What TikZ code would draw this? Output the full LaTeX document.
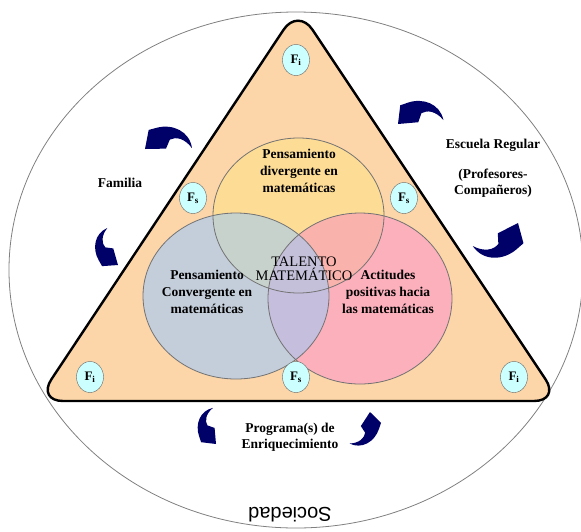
\documentclass[tikz,border=0pt]{standalone}
\usepackage{fontspec}
\setmainfont{Liberation Serif}
\newfontfamily\sansfont{Liberation Sans}
\usetikzlibrary{shapes.geometric}
\definecolor{peach}{RGB}{252,213,168}
\definecolor{yellowset}{RGB}{253,220,150}
\definecolor{blueset}{RGB}{196,206,218}
\definecolor{pinkset}{RGB}{252,176,188}
\definecolor{yb}{RGB}{199,210,205}
\definecolor{yp}{RGB}{250,178,172}
\definecolor{bp}{RGB}{197,190,221}
\definecolor{ybp}{RGB}{197,192,218}
\definecolor{factorcyan}{RGB}{204,255,255}
\definecolor{navy}{RGB}{0,0,105}

\tikzset{
  venntext/.style={font=\bfseries\fontsize{13.5}{17}\selectfont, align=center, inner sep=0pt},
  sidetext/.style={font=\bfseries\fontsize{13.5}{16}\selectfont, align=center, inner sep=0pt},
  factor/.style={ellipse, draw=black!60, fill=factorcyan, minimum width=27pt, minimum height=31pt,
    inner sep=0pt, font=\bfseries\fontsize{13}{13}\selectfont},
  setline/.style={draw=black!55, line width=0.8pt}
}
\newcommand{\yellowset}{(298.5,215.5) ellipse [x radius=85.5, y radius=77.5]}
\newcommand{\blueset}{(236,296) ellipse [x radius=93, y radius=83]}
\newcommand{\pinkset}{(360,298.5) ellipse [x radius=92, y radius=85.5]}
\newcommand{\bentarrow}[4]{%
  \fill[navy, shift={(#1,#2)}, rotate=#3, scale=#4, yscale=-1]
    (0,0) -- (4,19) -- (12,21) .. controls (28,25) and (45,17) .. (47,0)
    .. controls (40,10) and (31,12) .. (25,9) -- (21,0) -- cycle;}

\begin{document}
\begin{tikzpicture}[x=1pt, y=-1pt]
  \useasboundingbox (0,0) rectangle (581,531);
  \clip (0,0) rectangle (581,531);

  % sociedad
  \draw [black!50, line width=0.8pt] (296,270) ellipse [x radius=287, y radius=258];

  % triangle
  \coordinate (apex) at (298,8);
  \coordinate (right) at (560,401);
  \coordinate (left) at (37,401);
  \draw [fill=peach, line width=2.4pt, rounded corners=26pt] (apex) -- (right) -- (left) -- cycle;

  % three sets
  \fill [yellowset] \yellowset;
  \fill [blueset] \blueset;
  \fill [pinkset] \pinkset;
  \begin{scope}
    \clip \yellowset;
    \fill [yb] \blueset;
    \fill [yp] \pinkset;
  \end{scope}
  \begin{scope}
    \clip \blueset;
    \fill [bp] \pinkset;
    \clip \pinkset;
    \fill [ybp] \yellowset;
  \end{scope}
  \draw [setline] \yellowset;
  \draw [setline] \blueset;
  \draw [setline] \pinkset;

  % factors
  \node [factor] (fi top) at (296,60) {F\textsubscript{i}};
  \node [factor] (fs left) at (193,198) {F\textsubscript{s}};
  \node [factor] (fs right) at (404,198) {F\textsubscript{s}};
  \node [factor] (fi left) at (90,377) {F\textsubscript{i}};
  \node [factor] (fs bottom) at (296,377) {F\textsubscript{s}};
  \node [factor] (fi right) at (514,377) {F\textsubscript{i}};

  \node [venntext] (divergente) at (299,171) {Pensamiento\\divergente en\\matemáticas};
  \node [venntext] (convergente) at (207,292) {Pensamiento\\Convergente en\\matemáticas};
  \node [venntext] (actitudes) at (388,292) {Actitudes\\positivas hacia\\las matemáticas};
  \node [font=\fontsize{14.5}{14.5}\selectfont, align=center, inner sep=0pt] (talento) at (304,269) {TALENTO\\MATEMÁTICO};

  \node [sidetext] (familia) at (120,183) {Familia};
  \node [sidetext] (escuela) at (493,145) {Escuela Regular};
  \node [sidetext] (profesores) at (493,183) {(Profesores-\\Compañeros)};
  \node [sidetext] (programa) at (290,437) {Programa(s) de\\Enriquecimiento};
  \node [font=\sansfont\fontsize{20}{20}\selectfont, rotate=180, inner sep=0pt] (sociedad) at (290,515) {Sociedad};

  % arrows
  \bentarrow{145}{149}{1}{1}
  \bentarrow{118}{265}{106}{0.82}
  \bentarrow{398}{124}{5}{0.97}
  \bentarrow{518}{223}{207}{1.08}
  \bentarrow{216}{444}{95}{0.77}
  \bentarrow{370}{412}{237}{0.8}
\end{tikzpicture}
\end{document}
